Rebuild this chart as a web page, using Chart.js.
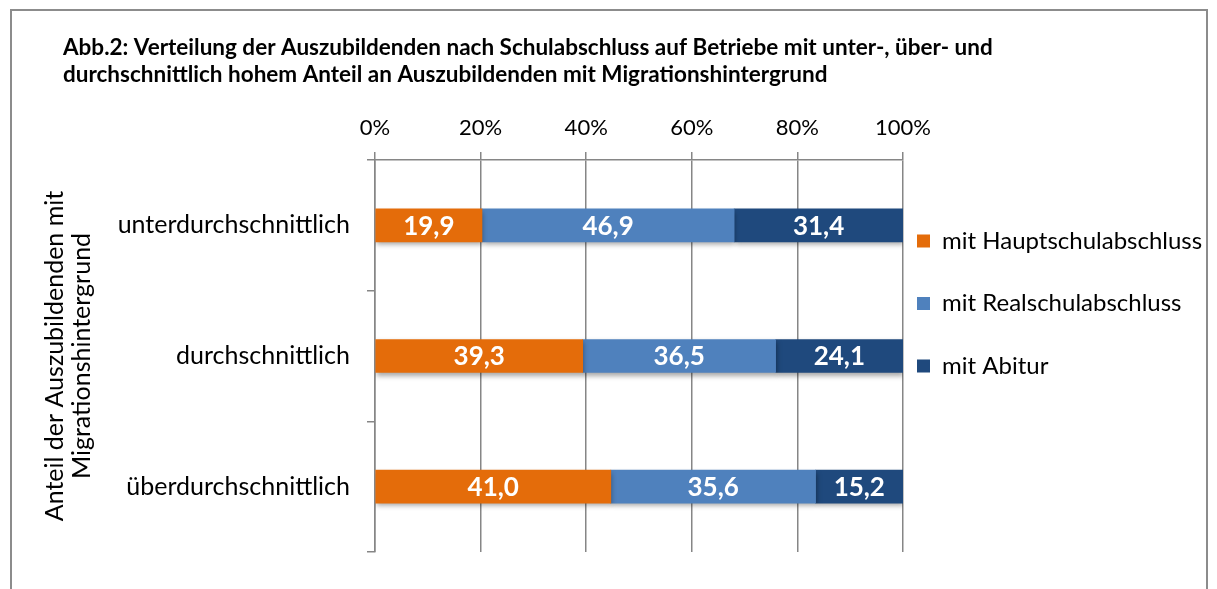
<!DOCTYPE html>
<html>
<head>
<meta charset="utf-8">
<script src="https://cdn.jsdelivr.net/npm/chart.js@4.4.1/dist/chart.umd.min.js"></script>
<style>
  html, body { margin: 0; padding: 0; background: #fff; }
</style>
</head>
<body>
<canvas id="chart" width="1217" height="589"></canvas>
<script>
// data
const categories = ['unterdurchschnittlich', 'durchschnittlich', 'überdurchschnittlich'];
const hauptschule = [19.9, 39.3, 41.0];
const realschule = [46.9, 36.5, 35.6];
const abitur = [31.4, 24.1, 15.2];
const seriesNames = ['mit Hauptschulabschluss', 'mit Realschulabschluss', 'mit Abitur'];
const seriesColors = ['#E46C0A', '#4F81BD', '#1F497D'];
const xTicks = [0, 20, 40, 60, 80, 100];
const titleLines = [
  'Abb.2: Verteilung der Auszubildenden nach Schulabschluss auf Betriebe mit unter-, über- und',
  'durchschnittlich hohem Anteil an Auszubildenden mit Migrationshintergrund'
];
const axisTitleLines = ['Anteil der Auszubildenden mit', 'Migrationshintergrund'];

const FONT = 'Lato';
const gridColor = '#868686';
const labelSize = 25;
const headTop = 88.5;     // room kept for the heading
const plotLeft = 375, plotRight = 903;
const rightPad = 14;

// 100% stacked, like the original: each row is scaled to its own total
const rawSeries = [hauptschule, realschule, abitur];
const totals = categories.map((c, i) => rawSeries.reduce((s, arr) => s + arr[i], 0));

const datasets = rawSeries.map((arr, k) => ({
  label: seriesNames[k],
  data: arr.map((v, i) => v / totals[i] * 100),
  raw: arr,
  backgroundColor: seriesColors[k],
  borderColor: seriesColors[k],
  borderWidth: 0,
  barThickness: 33
}));

const framePlugin = {
  id: 'frame',
  beforeDraw(chart) {
    const ctx = chart.ctx;
    ctx.save();
    ctx.strokeStyle = '#8c8c8c';
    ctx.lineWidth = 2;
    ctx.strokeRect(11, 10, 1196, 700);
    // heading, left aligned at the frame's inner margin
    ctx.fillStyle = '#000';
    ctx.font = 'bold 22.5px ' + FONT;
    ctx.textAlign = 'left';
    ctx.textBaseline = 'middle';
    titleLines.forEach((line, i) => ctx.fillText(line, 63, 48 + i * 27));
    ctx.restore();
  }
};

const shadowPlugin = {
  id: 'barShadow',
  beforeDatasetsDraw(chart) {
    const ctx = chart.ctx;
    ctx.save();
    ctx.shadowColor = 'rgba(0,0,0,0.35)';
    ctx.shadowBlur = 5;
    ctx.shadowOffsetX = 1;
    ctx.shadowOffsetY = 3;
  },
  afterDatasetsDraw(chart) {
    chart.ctx.restore();
  }
};

const valueLabels = {
  id: 'valueLabels',
  afterDatasetsDraw(chart) {
    const ctx = chart.ctx;
    ctx.save();
    ctx.font = 'bold 26px ' + FONT;
    ctx.fillStyle = '#fff';
    ctx.textAlign = 'center';
    ctx.textBaseline = 'middle';
    chart.data.datasets.forEach((ds, k) => {
      chart.getDatasetMeta(k).data.forEach((bar, i) => {
        const p = bar.getProps(['x', 'y', 'base'], true);
        const txt = ds.raw[i].toFixed(1).replace('.', ',');
        ctx.fillText(txt, (p.x + p.base) / 2, p.y + 1);
      });
    });
    ctx.restore();
  }
};

new Chart(document.getElementById('chart'), {
  type: 'bar',
  data: { labels: categories, datasets: datasets },
  options: {
    indexAxis: 'y',
    responsive: false,
    animation: false,
    layout: { padding: { left: 0, top: headTop, right: rightPad, bottom: 37 } },
    scales: {
      x: {
        position: 'top',
        stacked: true,
        min: 0,
        max: 100,
        afterBuildTicks: s => { s.ticks = xTicks.map(v => ({ value: v })); },
        afterFit: s => { s.height = 160 - headTop; },
        grid: { color: gridColor, lineWidth: 1.5, tickLength: 8 },
        border: { color: gridColor, width: 1.5 },
        ticks: {
          callback: v => v + '%',
          font: { family: FONT, size: 22 },
          color: '#000',
          padding: 11,
          maxRotation: 0
        }
      },
      y: {
        stacked: true,
        afterFit: s => { s.width = plotLeft; },
        grid: { drawOnChartArea: false, color: gridColor, lineWidth: 1.5, tickLength: 8 },
        border: { color: gridColor, width: 1.5 },
        ticks: { font: { family: FONT, size: labelSize }, color: '#000', padding: 17 },
        title: {
          display: true,
          text: axisTitleLines,
          font: { family: FONT, size: labelSize, lineHeight: '27px' },
          color: '#000',
          padding: { top: 41.5, bottom: 0 }
        }
      }
    },
    plugins: {
      legend: {
        position: 'right',
        align: 'start',
        maxWidth: 1217 - plotRight - rightPad,
        title: { display: true, text: '', font: { size: 1, lineHeight: 1 }, padding: { top: 214 - headTop, bottom: 0 } },
        labels: {
          generateLabels(chart) {
            return Chart.defaults.plugins.legend.labels.generateLabels(chart)
              .map(l => Object.assign(l, { text: [l.text] }));
          },
          boxWidth: 13,
          boxHeight: 13,
          padding: 14,
          color: '#000',
          font: { family: FONT, size: 24, lineHeight: '48.5px' }
        }
      },
      tooltip: { enabled: false }
    }
  },
  plugins: [framePlugin, shadowPlugin, valueLabels]
});
</script>
</body>
</html>
